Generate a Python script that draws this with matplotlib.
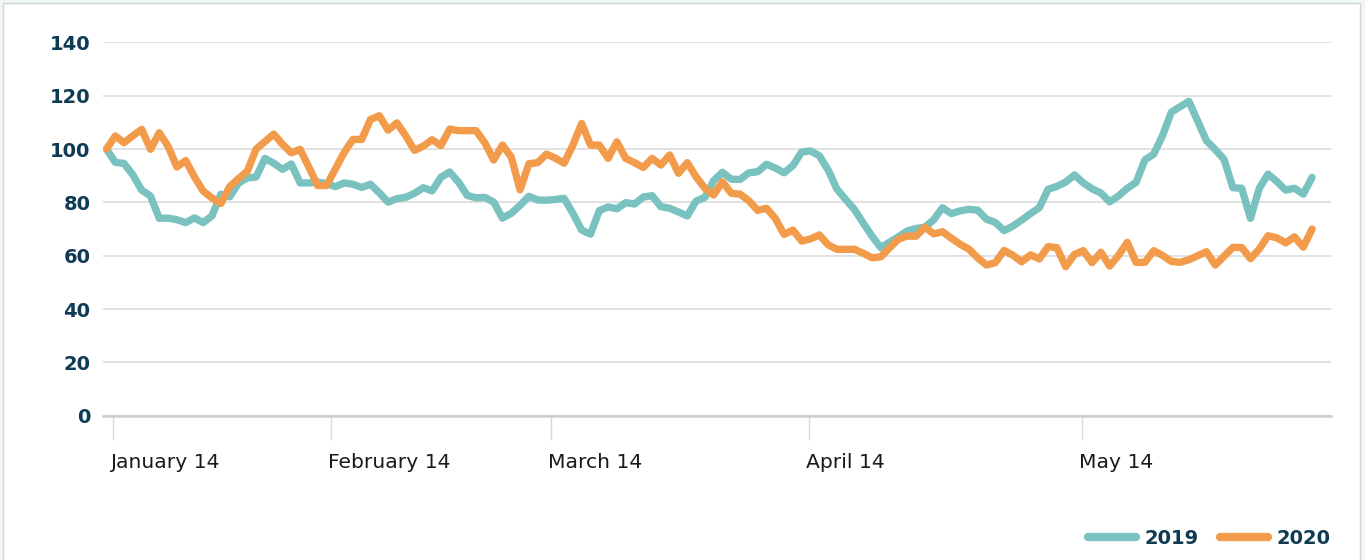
import matplotlib
matplotlib.use("Agg")
import matplotlib.pyplot as plt
from matplotlib.lines import Line2D
from matplotlib.patches import Rectangle
import matplotlib.transforms as mtransforms

# ---------------- data ----------------
series_names = ["2019", "2020"]

values_2019 = [
    100, 95.0, 94.6, 90.3, 84.6, 82.4, 74.0, 74.1, 73.5, 72.4,
    74.2, 72.4, 75.0, 83.1, 82.1, 87.2, 89.2, 89.5, 96.5, 94.7,
    92.4, 94.4, 87.3, 87.3, 87.6, 87.1, 85.9, 87.3, 86.8, 85.6,
    86.8, 83.6, 80.1, 81.4, 81.9, 83.4, 85.5, 84.3, 89.4, 91.4,
    87.6, 82.6, 81.7, 81.9, 80.1, 74.1, 75.9, 78.9, 82.3, 80.9,
    80.8, 81.1, 81.5, 75.9, 69.6, 68.1, 76.9, 78.3, 77.6, 79.9,
    79.4, 82.0, 82.5, 78.4, 77.8, 76.4, 74.9, 80.5, 81.9, 88.2,
    91.3, 88.7, 88.6, 91.1, 91.5, 94.3, 92.9, 91.1, 93.8, 98.9,
    99.3, 97.5, 92.2, 85.0, 81.1, 77.3, 72.2, 67.3, 63.0, 65.1,
    67.1, 69.3, 70.2, 70.7, 73.5, 78.0, 75.8, 76.8, 77.4, 77.1,
    73.7, 72.5, 69.4, 71.1, 73.4, 75.8, 78.0, 84.9, 86.0, 87.6,
    90.3, 87.3, 85.1, 83.5, 80.2, 82.4, 85.3, 87.5, 95.9, 98.1,
    105.0, 113.8, 115.9, 117.9, 110.5, 103.1, 99.8, 96.1, 85.5, 85.3,
    74.0, 85.3, 90.6, 87.8, 84.6, 85.3, 83.1, 89.4,
]

values_2020 = [
    100, 104.9, 102.4, 105.0, 107.4, 99.9, 106.1, 101.0, 93.3, 95.7,
    89.5, 84.2, 81.6, 79.6, 85.9, 88.9, 91.7, 100.0, 102.8, 105.6,
    101.8, 98.6, 99.9, 93.2, 86.3, 86.3, 92.5, 98.7, 103.6, 103.6,
    111.1, 112.5, 107.1, 109.8, 105.0, 99.5, 101.1, 103.5, 101.3, 107.5,
    106.9, 106.9, 106.9, 102.3, 95.9, 101.5, 97.0, 84.7, 94.5, 94.9,
    98.1, 96.6, 94.7, 101.5, 109.6, 101.5, 101.5, 96.5, 102.7, 96.5,
    94.9, 93.1, 96.5, 94.0, 97.8, 90.9, 94.9, 89.6, 85.3, 82.8,
    87.7, 83.4, 83.1, 80.6, 77.0, 77.8, 74.0, 68.0, 69.6, 65.5,
    66.3, 67.8, 64.1, 62.4, 62.4, 62.4, 60.9, 59.2, 59.6, 63.0,
    66.2, 67.4, 67.3, 70.7, 68.2, 69.0, 66.6, 64.3, 62.5, 59.2,
    56.5, 57.4, 62.0, 60.2, 57.7, 60.3, 58.8, 63.4, 63.0, 55.9,
    60.5, 61.9, 57.4, 61.3, 56.1, 60.1, 65.0, 57.5, 57.5, 61.9,
    60.1, 57.9, 57.5, 58.5, 60.0, 61.5, 56.5, 59.8, 63.1, 63.1,
    58.9, 62.5, 67.5, 66.7, 64.8, 67.1, 63.2, 70.0,
]

tick_labels = ["January 14", "February 14", "March 14", "April 14", "May 14"]
tick_positions = [0.7, 25.5, 50.5, 79.8, 110.9]   # position along the point index
y_ticks = [0, 20, 40, 60, 80, 100, 120, 140]

# ---------------- style ----------------
TEAL = "#7ac2c0"
ORANGE = "#f29b4b"
NAVY = "#0f3a53"
GRID = "#d9d9d9"

W, H = 1365, 560
fig = plt.figure(figsize=(W / 100, H / 100), dpi=100)
fig.patch.set_facecolor("#eef6f6")
fig.patches.append(Rectangle((3 / W, -0.05), (1360 - 3) / W, 1 - 3 / H + 0.05,
                             transform=fig.transFigure, facecolor="white",
                             edgecolor="#d4d4d4", lw=1.0, zorder=-5))

left, right = 103.5, 1331
top, bottom = 42.4, 415.7
ax = fig.add_axes([left / W, 1 - bottom / H, (right - left) / W, (bottom - top) / H])
ax.set_facecolor("none")
ax.set_zorder(2)

x = list(range(len(values_2019)))
ax.plot(x, values_2019, color=TEAL, lw=5.3, solid_joinstyle="round",
        solid_capstyle="round", zorder=3)
ax.plot(x, values_2020, color=ORANGE, lw=5.3, solid_joinstyle="round",
        solid_capstyle="round", zorder=4)

ax.set_xlim(-0.34, 139.15)
ax.set_ylim(0, 140)

ax.set_yticks(y_ticks)
ax.set_yticklabels([str(v) for v in y_ticks])
ax.yaxis.grid(True, color=GRID, lw=1.1, zorder=1)
ax.set_axisbelow(True)
for s in ["left", "right", "top"]:
    ax.spines[s].set_visible(False)
ax.spines["bottom"].set_color("#cccccc")
ax.spines["bottom"].set_linewidth(1.8)

ax.tick_params(axis="y", length=0, pad=9.5, labelsize=14, labelcolor=NAVY)
for lab in ax.get_yticklabels():
    lab.set_fontweight("bold")

ax.set_xticks(tick_positions)
ax.set_xticklabels(tick_labels)
ax.tick_params(axis="x", length=17, width=1.0, color=GRID, pad=9.5,
               labelsize=14.6, labelcolor="#1a1a1a")
offset = mtransforms.ScaledTranslation(-3 / 100, 0, fig.dpi_scale_trans)
for lab in ax.get_xticklabels():
    lab.set_horizontalalignment("left")
    lab.set_transform(lab.get_transform() + offset)

handles = [Line2D([0], [0], color=TEAL, lw=6, solid_capstyle="round"),
           Line2D([0], [0], color=ORANGE, lw=6, solid_capstyle="round")]
leg = fig.legend(handles, series_names, loc="lower right",
                 bbox_to_anchor=(1330 / W, 0.022), borderaxespad=0, borderpad=0,
                 frameon=False, ncol=2, handlelength=2.5, handletextpad=0.4,
                 columnspacing=1.1, prop={"weight": "bold", "size": 14})
for t in leg.get_texts():
    t.set_color(NAVY)

fig.savefig("out.png", dpi=100, facecolor=fig.get_facecolor())
